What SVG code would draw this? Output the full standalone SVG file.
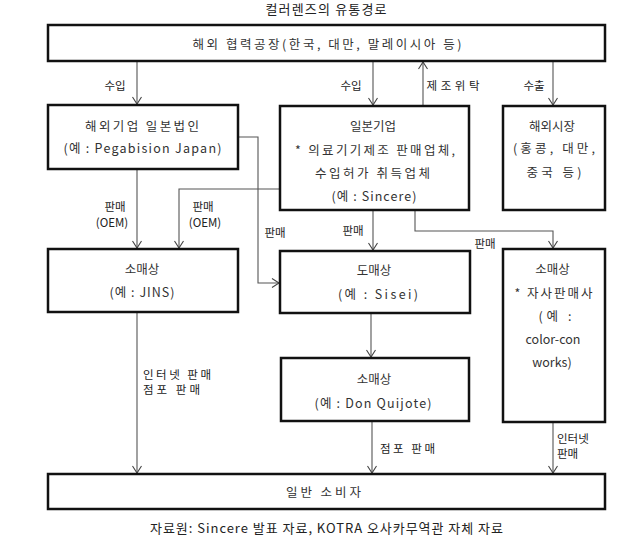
<svg xmlns="http://www.w3.org/2000/svg" width="636" height="538" viewBox="0 0 636 538">
<style>
.box{fill:#fff;stroke:#111;stroke-width:2.5}
.t{font-family:"Noto Sans CJK KR","Liberation Sans",sans-serif;font-size:12.5px;fill:#333;text-anchor:middle;dominant-baseline:central}
.l{font-family:"Noto Sans CJK KR","Liberation Sans",sans-serif;font-size:11.5px;fill:#222;text-anchor:middle;dominant-baseline:central}
.ls{text-anchor:start}
.c{fill:none;stroke:#555;stroke-width:1.1}
.h{font-family:"Noto Sans CJK KR","Liberation Sans",sans-serif;font-size:13px;fill:#222;text-anchor:middle;dominant-baseline:central}
</style>
<defs>
<marker id="a" viewBox="-8 -5 9 10" refX="0" refY="0" markerWidth="9" markerHeight="10" markerUnits="userSpaceOnUse" orient="auto">
<path d="M-7,-4.5 L0,0 L-7,4.5" fill="none" stroke="#444" stroke-width="1.1"/>
</marker>
</defs>
<rect width="636" height="538" fill="#fff"/>
<text class="h" x="326" y="8" textLength="121">컬러렌즈의 유통경로</text>

<g id="connectors">
<path class="c" d="M137,62 V104" marker-end="url(#a)"/>
<path class="c" d="M373,62 V105" marker-end="url(#a)"/>
<path class="c" d="M423,105 V62" marker-end="url(#a)"/>
<path class="c" d="M553,62 V105" marker-end="url(#a)"/>
<path class="c" d="M137,170 V248" marker-end="url(#a)"/>
<path class="c" d="M280,189 H179 V248" marker-end="url(#a)"/>
<path class="c" d="M238,137 H258 V283 H279" marker-end="url(#a)"/>
<path class="c" d="M373,211 V250" marker-end="url(#a)"/>
<path class="c" d="M415,211 V231 H553 V248" marker-end="url(#a)"/>
<path class="c" d="M371,314 V357" marker-end="url(#a)"/>
<path class="c" d="M137,313 V473" marker-end="url(#a)"/>
<path class="c" d="M372,422 V473" marker-end="url(#a)"/>
<path class="c" d="M553,423 V473" marker-end="url(#a)"/>
<text class="l" x="115" y="85">수입</text>
<text class="l" x="351" y="85">수입</text>
<text class="l" x="453" y="85" textLength="53">제조위탁</text>
<text class="l" x="534" y="85">수출</text>
<text class="l" x="115" y="206">판매</text>
<text class="l" x="112" y="222">(OEM)</text>
<text class="l" x="203" y="206">판매</text>
<text class="l" x="205" y="222">(OEM)</text>
<text class="l" x="275" y="232">판매</text>
<text class="l" x="353" y="230">판매</text>
<text class="l" x="485" y="243">판매</text>
<text class="l ls" x="143" y="374" textLength="68">인터넷 판매</text>
<text class="l ls" x="143" y="389" textLength="57">점포 판매</text>
<text class="l ls" x="380" y="448" textLength="55">점포 판매</text>
<text class="l ls" x="557" y="438">인터넷</text>
<text class="l ls" x="557" y="453">판매</text>
</g>

<g id="n-factory">
<rect class="box" x="48" y="25" width="557" height="36"/>
<text class="t" x="327" y="43" textLength="269">해외 협력공장(한국, 대만, 말레이시아 등)</text>
</g>
<g id="n-foreign-jp">
<rect class="box" x="48" y="105" width="190" height="64"/>
<text class="t" x="142" y="125" textLength="114">해외기업 일본법인</text>
<text class="t" x="142.5" y="147" textLength="158">(예 : Pegabision Japan)</text>
</g>
<g id="n-japan">
<rect class="box" x="280" y="106" width="189" height="104"/>
<text class="t" x="373" y="125">일본기업</text>
<text class="t" x="375" y="149" textLength="160">* 의료기기제조 판매업체,</text>
<text class="t" x="372.5" y="172" textLength="115">수입허가 취득업체</text>
<text class="t" x="374" y="195" textLength="85">(예 : Sincere)</text>
</g>
<g id="n-overseas">
<rect class="box" x="503" y="106" width="102" height="104"/>
<text class="t" x="552" y="125">해외시장</text>
<text class="t" x="554" y="147" textLength="82">(홍콩, 대만,</text>
<text class="t" x="554" y="171" textLength="55">중국 등)</text>
</g>
<g id="n-retail-jins">
<rect class="box" x="48" y="249" width="190" height="63"/>
<text class="t" x="142" y="268">소매상</text>
<text class="t" x="142" y="291" textLength="65">(예 : JINS)</text>
</g>
<g id="n-wholesale">
<rect class="box" x="280" y="251" width="190" height="62"/>
<text class="t" x="374" y="269">도매상</text>
<text class="t" x="378" y="293" textLength="80">(예 : Sisei)</text>
</g>
<g id="n-retail-own">
<rect class="box" x="503" y="249" width="102" height="173"/>
<text class="t" x="552.5" y="268">소매상</text>
<text class="t" x="553.5" y="292" textLength="78">* 자사판매사</text>
<text class="t" x="555" y="315" textLength="33">(예 :</text>
<text class="t" x="553" y="338">color-con</text>
<text class="t" x="552" y="361">works)</text>
</g>
<g id="n-donquijote">
<rect class="box" x="281" y="358" width="188" height="63"/>
<text class="t" x="374" y="378">소매상</text>
<text class="t" x="373" y="402" textLength="117">(예 : Don Quijote)</text>
</g>
<g id="n-consumer">
<rect class="box" x="48" y="474" width="557" height="35"/>
<text class="t" x="323.5" y="491" textLength="75">일반 소비자</text>
</g>
<text class="h" x="326.5" y="527" textLength="353">자료원: Sincere 발표 자료, KOTRA 오사카무역관 자체 자료</text>
</svg>
